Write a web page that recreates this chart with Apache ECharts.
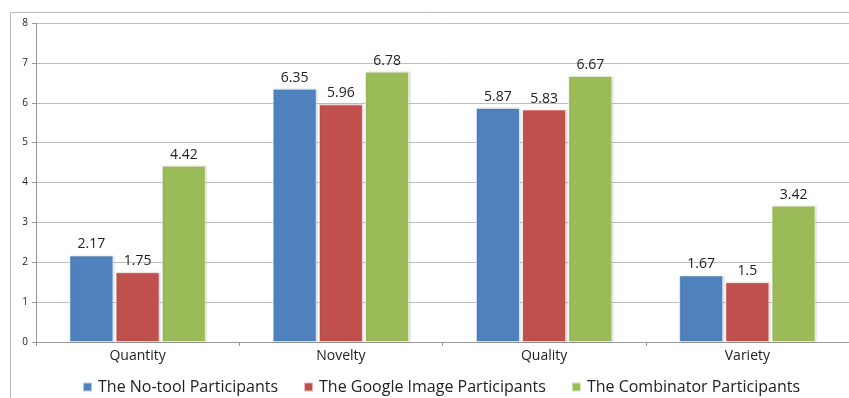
<!DOCTYPE html>
<html><head><meta charset="utf-8">
<script src="https://cdn.jsdelivr.net/npm/echarts@6/dist/echarts.min.js"></script>
<style>html,body{margin:0;padding:0;background:#fff}#c{width:849px;height:398px}</style>
</head><body><div id="c"></div>
<script>
var categories = ['Quantity', 'Novelty', 'Quality', 'Variety'];
var noTool = [2.17, 6.35, 5.87, 1.67];
var google = [1.75, 5.96, 5.83, 1.5];
var combinator = [4.42, 6.78, 6.67, 3.42];
var seriesNames = ['The No-tool Participants', 'The Google Image Participants', 'The Combinator Participants'];
var yTicks = [0, 1, 2, 3, 4, 5, 6, 7, 8];

var chart = echarts.init(document.getElementById('c'), null, {renderer: 'canvas'});
var font = '"Open Sans", "Noto Sans", sans-serif';
function mk(name, data, color) {
  return {
    name: name, type: 'bar', data: data, barWidth: 44, barGap: '5%',
    itemStyle: {color: color, borderColor: 'rgba(255,255,255,0.6)', borderWidth: 1,
      shadowColor: 'rgba(0,0,0,0.15)', shadowBlur: 2, shadowOffsetX: 1},
    label: {show: true, position: 'top', distance: 4, color: '#222', fontSize: 14, fontFamily: font}
  };
}
chart.setOption({
  animation: false,
  graphic: [{type: 'polyline', shape: {points: [[10.5, 398], [10.5, 12.5], [849, 12.5]]},
    style: {fill: null, stroke: '#bbb', lineWidth: 1}, silent: true}],
  grid: {left: 36, top: 23, width: 814, bottom: 56, containLabel: false},
  legend: {
    data: seriesNames, top: 374, left: 77, itemWidth: 9, itemHeight: 9, itemGap: 25,
    icon: 'rect',
    textStyle: {fontSize: 16, color: '#222', fontFamily: font, padding: [0, 0, 0, 1]}
  },
  xAxis: {
    type: 'category', data: categories,
    axisLine: {lineStyle: {color: '#999'}},
    axisTick: {show: true, lineStyle: {color: '#999'}, length: 4},
    axisLabel: {fontSize: 14, color: '#222', fontFamily: font, margin: 7}
  },
  yAxis: {
    type: 'value', min: 0, max: 8, interval: 1,
    axisLine: {show: true, lineStyle: {color: '#999'}},
    axisTick: {show: true, length: 4, lineStyle: {color: '#999'}},
    axisLabel: {fontSize: 10, color: '#222', fontFamily: font, margin: 8,
      formatter: function (v) { return yTicks.indexOf(v) >= 0 ? String(v) : ''; }},
    splitLine: {lineStyle: {color: '#bfbfbf'}}
  },
  series: [mk(seriesNames[0], noTool, '#4F81BD'), mk(seriesNames[1], google, '#C0504D'), mk(seriesNames[2], combinator, '#9BBB59')]
});
</script></body></html>
